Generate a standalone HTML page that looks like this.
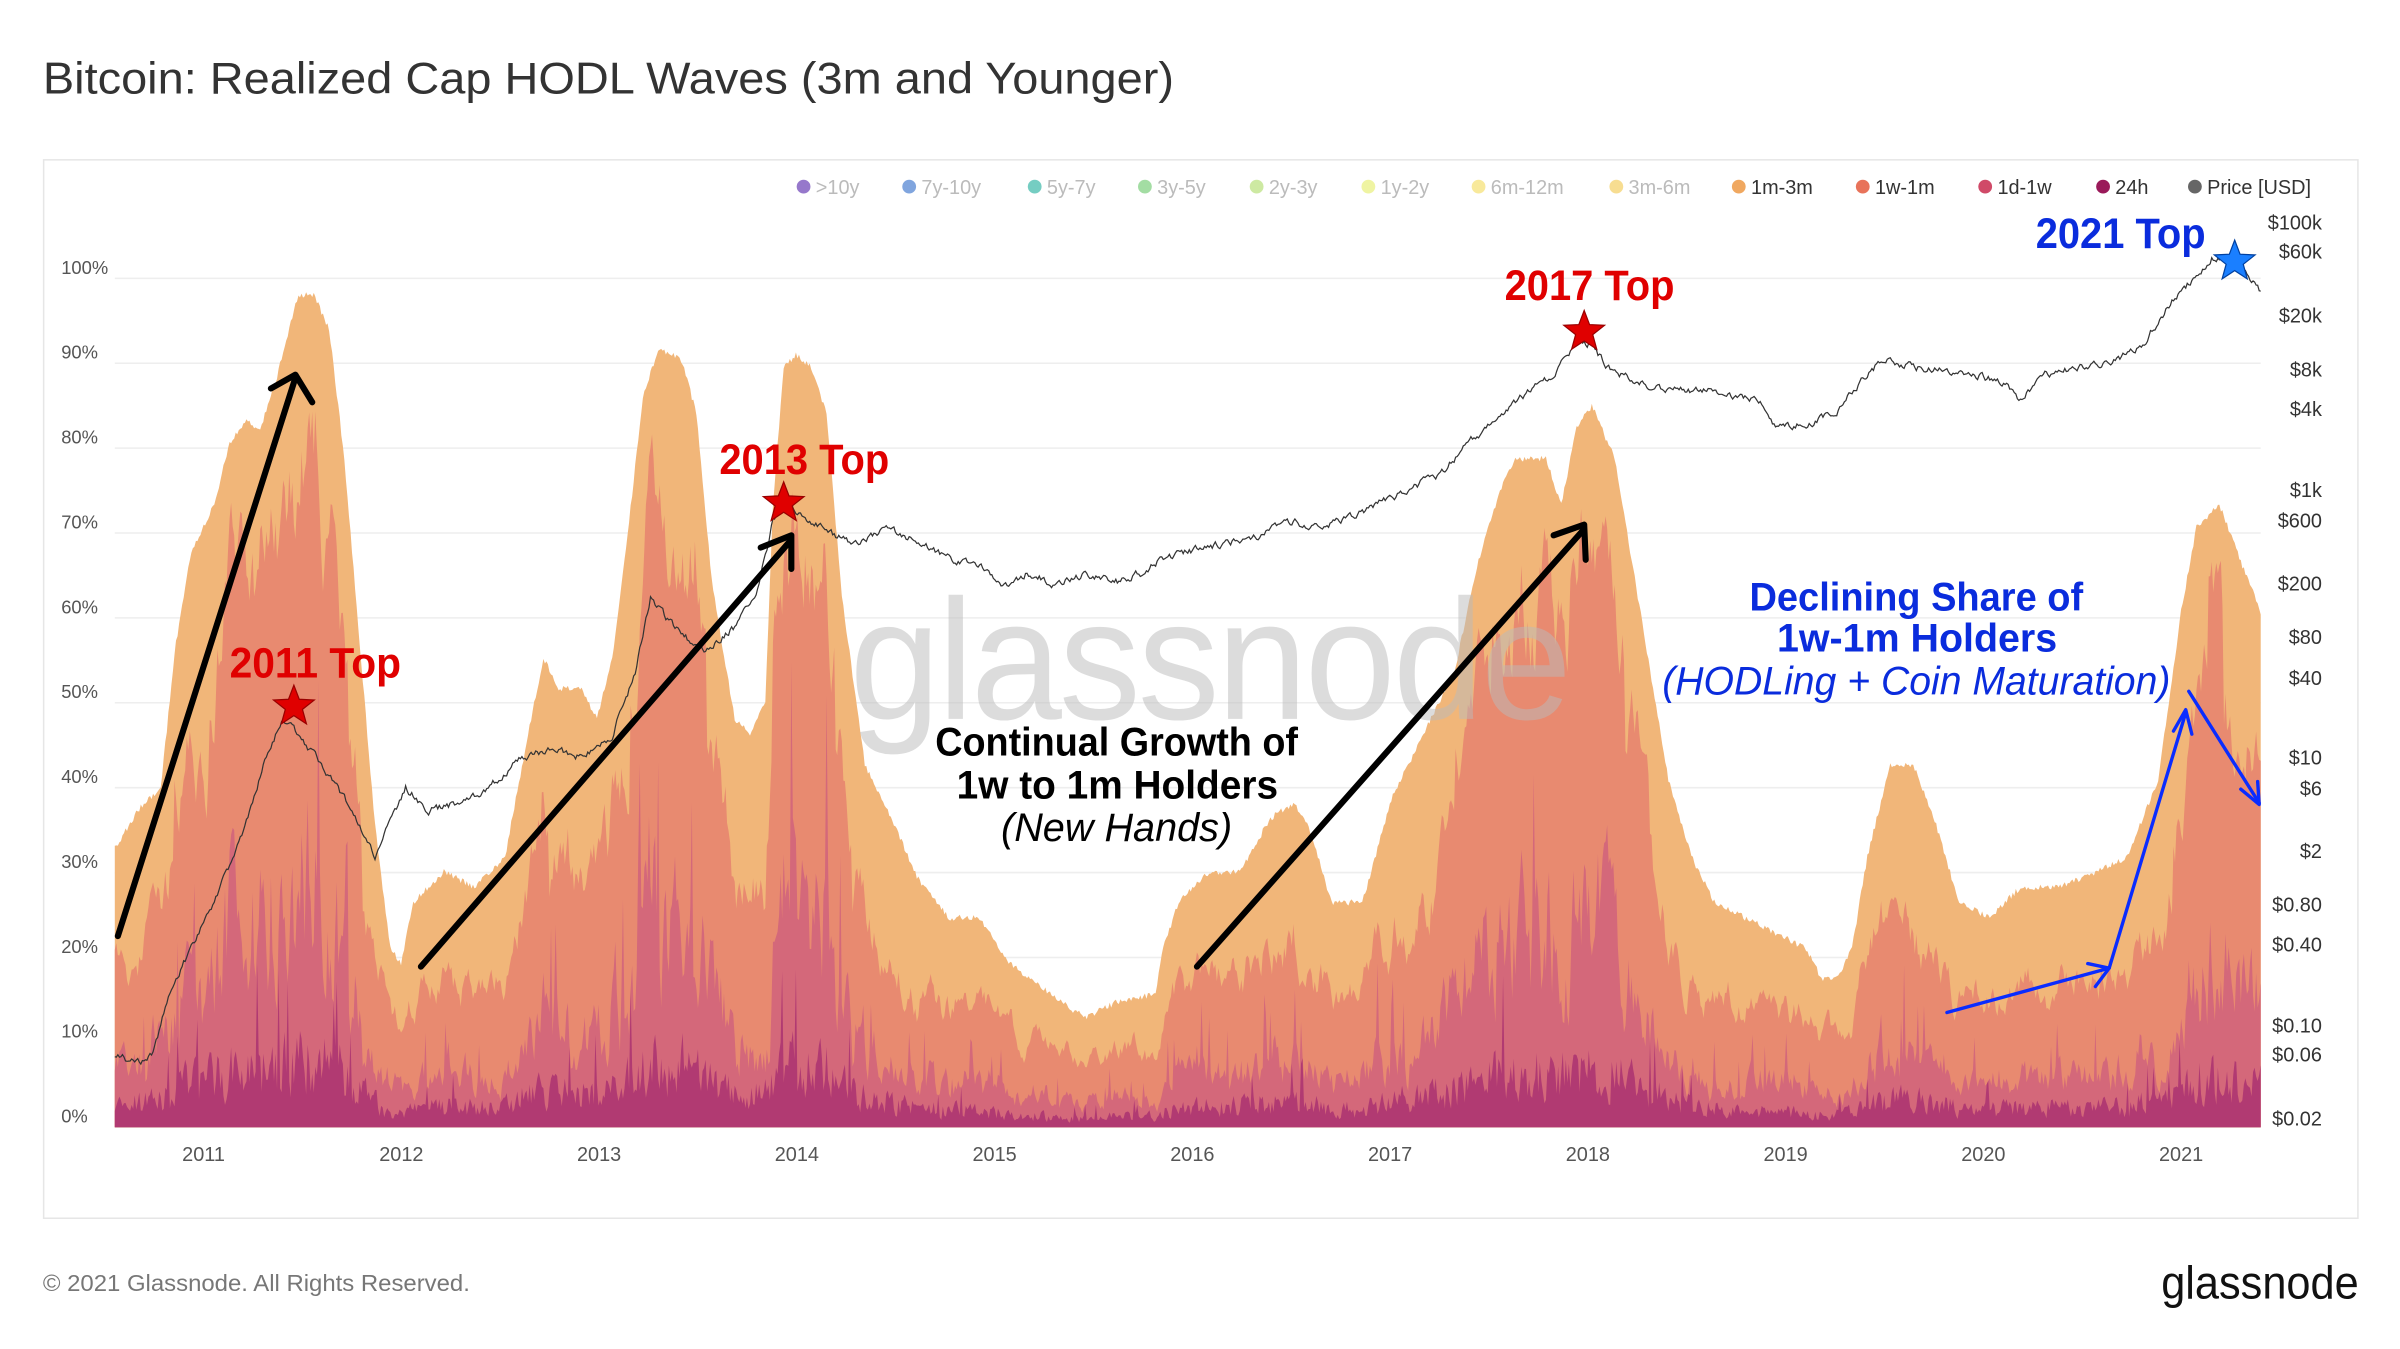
<!DOCTYPE html>
<html><head><meta charset="utf-8"><style>
html,body{margin:0;padding:0;background:#fff;}
svg{display:block;}
</style></head><body>
<svg id="s" width="2400" height="1349" viewBox="0 0 1568 882" preserveAspectRatio="none" xmlns="http://www.w3.org/2000/svg" font-family="'Liberation Sans', sans-serif">
<rect width="1568" height="882" fill="#fff"/>
<text x="28" y="61" font-size="29" fill="#333" textLength="739" lengthAdjust="spacingAndGlyphs">Bitcoin: Realized Cap HODL Waves (3m and Younger)</text>
<rect x="28.5" y="104.5" width="1512" height="692" fill="none" stroke="#e6e6e6"/>
<g id="grid" stroke="#eee" stroke-width="1"></g>
<g id="ylab" font-size="12" fill="#555"></g>
<g id="areas"></g>
<text x="790" y="470" font-size="112" fill="#bbb" text-anchor="middle" opacity="0.5" letter-spacing="-2" textLength="470" lengthAdjust="spacingAndGlyphs">glassnode</text>
<path id="price" fill="none" stroke="#333" stroke-width="0.8"/>
<g id="xlab" font-size="13" fill="#555" text-anchor="middle"></g>
<g id="rlab" font-size="13" fill="#333" text-anchor="end"></g>
<g id="legend" font-size="13"></g>
<g stroke="#000" stroke-width="4" fill="none" stroke-linecap="round" stroke-linejoin="round">
<path d="M77 612 L193 247"/><path d="M177 254 L193 245 L204 263"/>
<path d="M275 632 L516 354"/><path d="M497 358 L517 350 L517 372"/>
<path d="M782 632 L1034 347"/><path d="M1015 350 L1035 343 L1036 366"/>
</g>
<g stroke="#0a2cff" stroke-width="2.2" fill="none" stroke-linecap="round" stroke-linejoin="round">
<path d="M1272 662 L1378 633 L1428 466"/><path d="M1364 630 L1378 633 L1369 645"/>
<path d="M1420 478 L1428 464 L1432 480"/>
<path d="M1430 452 L1476 525"/><path d="M1464 516 L1476 526 L1475 511"/>
</g>
<g font-family="'Liberation Sans',sans-serif" font-weight="bold" font-size="28">
<text x="150" y="443" fill="#e00000" textLength="112" lengthAdjust="spacingAndGlyphs">2011 Top</text>
<text x="470" y="310" fill="#e00000" textLength="111" lengthAdjust="spacingAndGlyphs">2013 Top</text>
<text x="983" y="196" fill="#e00000" textLength="111" lengthAdjust="spacingAndGlyphs">2017 Top</text>
<text x="1330" y="162" fill="#0a2cdd" textLength="111" lengthAdjust="spacingAndGlyphs">2021 Top</text>
<text x="611" y="494" fill="#000" font-size="26" textLength="237" lengthAdjust="spacingAndGlyphs">Continual Growth of</text>
<text x="625" y="522" fill="#000" font-size="26" textLength="210" lengthAdjust="spacingAndGlyphs">1w to 1m Holders</text>
<text x="654" y="550" fill="#000" font-size="26" font-weight="normal" font-style="italic" textLength="151" lengthAdjust="spacingAndGlyphs">(New Hands)</text>
<text x="1143" y="399" fill="#0a2cdd" font-size="26" textLength="218" lengthAdjust="spacingAndGlyphs">Declining Share of</text>
<text x="1161" y="426" fill="#0a2cdd" font-size="26" textLength="183" lengthAdjust="spacingAndGlyphs">1w-1m Holders</text>
<text x="1086" y="454" fill="#0a2cdd" font-size="26" font-weight="normal" font-style="italic" textLength="332" lengthAdjust="spacingAndGlyphs">(HODLing + Coin Maturation)</text>
</g>
<g id="stars"></g>
<text x="28" y="844" font-size="15" fill="#777" textLength="279" lengthAdjust="spacingAndGlyphs">© 2021 Glassnode. All Rights Reserved.</text>
<text x="1412" y="849" font-size="30" fill="#111" textLength="129" lengthAdjust="spacingAndGlyphs">glassnode</text>
</svg>
<script>
var NS="http://www.w3.org/2000/svg";
function el(t,a,p,txt){var e=document.createElementNS(NS,t);for(var k in a)e.setAttribute(k,a[k]);if(txt!=null)e.textContent=txt;document.getElementById(p).appendChild(e);return e;}
var seed=7;function rnd(){seed=(seed*16807)%2147483647;return seed/2147483647;}
for(var i=0;i<=10;i++){var y=737-i*55.5;el('line',{x1:75,x2:1477,y1:y,y2:y},'grid');el('text',{x:40,y:y-3},'ylab',i*10+'%');}
var yrs=[2011,2012,2013,2014,2015,2016,2017,2018,2019,2020,2021];
yrs.forEach(function(y,i){el('text',{x:133+i*129.2,y:759},'xlab',y);});
var rl=[["$100k",145],["$60k",164],["$20k",206],["$8k",241],["$4k",267],["$1k",320],["$600",340],["$200",381],["$80",416],["$40",443],["$10",495],["$6",515],["$2",556],["$0.80",591],["$0.40",617],["$0.10",670],["$0.06",689],["$0.02",731]];
rl.forEach(function(r){el('text',{x:1517,y:r[1]+5},'rlab',r[0]);});
var lg=[[">10y",525,"#6a3fb5",1],["7y-10y",594,"#4a7fd0",1],["5y-7y",676,"#3bb8a8",1],["3y-5y",748,"#7ccf7c",1],["2y-3y",821,"#b8e07a",1],["1y-2y",894,"#e8f07a",1],["6m-12m",966,"#f5e070",1],["3m-6m",1056,"#f3cf62",1],["1m-3m",1136,"#f0a860",0],["1w-1m",1217,"#e8735a",0],["1d-1w",1297,"#d04a68",0],["24h",1374,"#9a1a5a",0],["Price [USD]",1434,"#666",0]];
lg.forEach(function(l){el('circle',{cx:l[1],cy:122,r:4.5,fill:l[2],opacity:l[3]?0.7:1},'legend');el('text',{x:l[1]+8,y:127,fill:l[3]?'#bbb':'#333'},'legend',l[0]);});
function interp(pts,x){for(var i=1;i<pts.length;i++){if(x<=pts[i][0]){var a=pts[i-1],b=pts[i];var t=(x-a[0])/(b[0]-a[0]);return a[1]+(b[1]-a[1])*t;}}return pts[pts.length-1][1];}
var env=[[75,555],[90,530],[105,515],[115,420],[125,360],[140,330],[150,290],[160,275],[170,280],[180,250],[190,210],[195,193],[205,193],[215,215],[225,300],[235,420],[245,540],[255,620],[262,630],[270,590],[290,570],[310,580],[330,560],[345,480],[355,430],[365,450],[380,450],[390,470],[400,430],[410,350],[420,260],[430,228],[445,235],[455,270],[465,380],[480,470],[490,480],[500,460],[505,330],[512,240],[520,232],[530,240],[540,270],[550,390],[565,500],[580,530],[600,575],[620,600],[640,600],[660,630],[680,645],[700,660],[710,665],[730,655],[755,650],[760,620],[770,590],[790,570],[810,570],[830,535],[845,525],[855,540],[870,590],[890,590],[910,520],[930,480],[950,440],[965,370],[980,320],[990,300],[1010,300],[1020,330],[1030,280],[1040,265],[1055,300],[1065,360],[1075,420],[1090,510],[1105,560],[1120,590],[1140,600],[1160,610],[1180,620],[1190,640],[1200,640],[1210,620],[1220,560],[1235,500],[1250,500],[1265,540],[1280,590],[1300,600],[1320,580],[1345,580],[1370,570],[1390,560],[1410,510],[1425,400],[1435,345],[1450,330],[1465,370],[1477,400]];
var B=737;
var tops=[[],[],[],[]];
var n1=0,n2=0,n3=0;
for(var x=75;x<=1477;x+=1){
 var e=interp(env,x)+(rnd()-0.5)*4;
 var h=B-e;
 n1=n1*0.85+(rnd()-0.5)*0.12;n2=n2*0.6+(rnd()-0.5)*0.2;n3=n3*0.3+(rnd()-0.5)*0.3;
 var f1=Math.min(0.92,Math.max(0.35,0.58+n1+(h>400?0.22:h>300?0.1:0)));
 var f2=Math.min(0.8,Math.max(0.1,0.36+n2+(rnd()<0.04?0.3:0)));
 var f3=Math.min(0.4,Math.max(0.03,0.08+n3*0.25+(rnd()<0.03?0.12:0)));
 var h1=h*f1;var h2=h1*f2;var h3=Math.min(h2,h*f3);
 tops[0].push([x,e]);tops[1].push([x,B-h1]);tops[2].push([x,B-h2]);tops[3].push([x,B-h3]);
}
var cols=["#f1b679","#e88a70","#d4687a","#b13a72"];
tops.forEach(function(t,i){var d="M75 "+B;t.forEach(function(p){d+=" L"+p[0]+" "+p[1].toFixed(1);});d+=" L1477 "+B+" Z";el('path',{d:d,fill:cols[i]},'areas');});
var pr=[[75,690],[90,695],[100,690],[110,650],[120,630],[140,590],[160,540],[175,490],[185,470],[195,480],[210,500],[230,530],[245,560],[265,515],[280,530],[300,525],[320,515],[340,495],[360,490],[380,495],[400,480],[415,440],[425,390],[432,400],[445,415],[460,425],[480,410],[495,385],[505,340],[515,330],[530,340],[545,350],[560,355],[580,345],[600,355],[620,365],[640,370],[655,385],[670,375],[690,382],[710,375],[730,380],[745,375],[760,365],[780,360],[800,355],[820,352],[840,340],[860,345],[880,338],[900,330],[920,320],[940,310],[960,290],[980,270],[1000,255],[1015,245],[1030,225],[1040,225],[1050,240],[1070,250],[1090,255],[1110,255],[1130,258],[1150,262],[1160,278],[1180,278],[1200,270],[1215,250],[1230,235],[1250,240],[1270,242],[1290,245],[1310,250],[1320,262],[1335,245],[1355,240],[1380,238],[1400,225],[1420,195],[1435,180],[1445,168],[1455,170],[1465,175],[1477,192]];
var d="",pn=0;for(var x=75;x<=1477;x+=1){pn=pn*0.6+(rnd()-0.5)*4;var y=interp(pr,x)+pn;d+=(x==75?"M":" L")+x+" "+y.toFixed(1);}
document.getElementById('price').setAttribute('d',d);
function star(cx,cy,r,fill){var p="";for(var i=0;i<10;i++){var a=-Math.PI/2+i*Math.PI/5;var rr=i%2?r*0.42:r;p+=(cx+rr*Math.cos(a)).toFixed(1)+","+(cy+rr*Math.sin(a)).toFixed(1)+" ";}el('polygon',{points:p,fill:fill,stroke:fill=="#e00000"?"#900":"#0040a0","stroke-width":0.8},'stars');}
star(192,462,14,"#e00000");star(512,329,14,"#e00000");star(1035,217,14,"#e00000");star(1460,171,14,"#1a7fff");
</script>
</body></html>
